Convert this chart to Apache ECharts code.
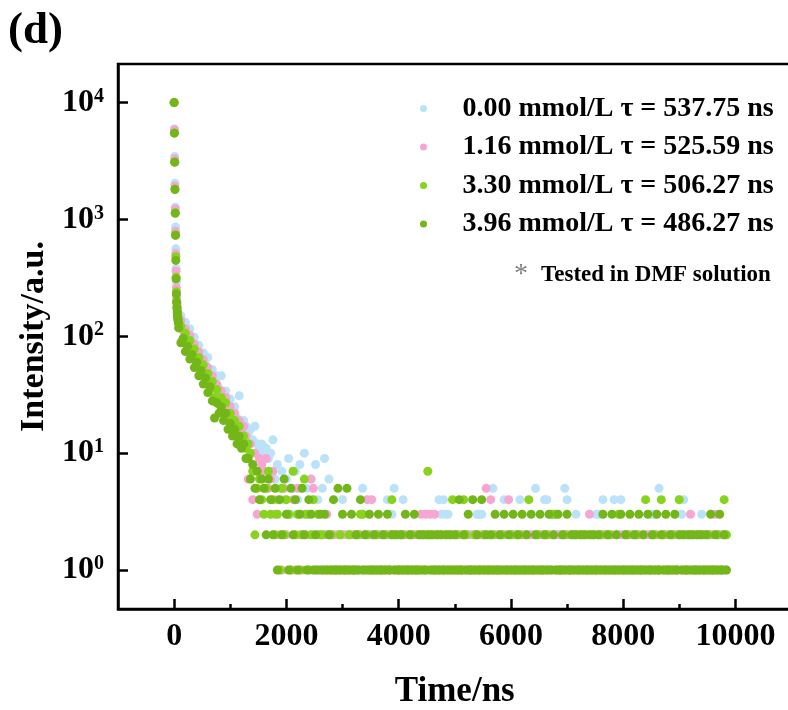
<!DOCTYPE html>
<html><head><meta charset="utf-8">
<script src="https://cdn.jsdelivr.net/npm/echarts@6/dist/echarts.min.js"></script>
<style>html,body{margin:0;padding:0;background:#fff}#c{width:788px;height:710px}</style>
</head><body><div id="c"></div>
<script>
const FONT = '"Liberation Serif","Times New Roman",serif';

const seriesNames = [
  '0.00 mmol/L \u03c4 = 537.75 ns',
  '1.16 mmol/L \u03c4 = 525.59 ns',
  '3.30 mmol/L \u03c4 = 506.27 ns',
  '3.96 mmol/L \u03c4 = 486.27 ns'
];
const seriesColors = ['#BAE2F9', '#F7A6D3', '#88D31C', '#73B619'];

const xMajorTicks = [0, 2000, 4000, 6000, 8000, 10000];
const xMinorTicks = [1000, 3000, 5000, 7000, 9000];
const yTickValues = [1, 10, 100, 1000, 10000];

// fine channels at the excitation peak (ns)
const peakTimesNs = [0, 5, 10, 15, 20, 25, 30, 35, 40, 45, 50, 55, 60, 65, 70, 75];
// body channels: start 80 ns, one every 40 ns
const bodyStartNs = 80;
const bodyStepNs = 40;

const peak000 = [10000, 5950, 3450, 2040, 1270, 860, 560, 380, 290, 225, 195, 178, 166, 158, 150, 144];
const peak116 = [10000, 5850, 3300, 1930, 1230, 790, 510, 360, 260, 215, 188, 172, 160, 152, 146, 140];
const peak330 = [10000, 5500, 3100, 1820, 1140, 740, 480, 320, 240, 200, 178, 163, 152, 146, 140, 134];
const peak396 = [10000, 5470, 3090, 1800, 1130, 730, 446, 310, 230, 196, 175, 160, 150, 142, 136, 130];

const body000 = [
  146,150,126,132,110,116,94,98,80,84,68,72,58,66,50,52,42,46,36,46,31,34,27,29,24,25,20,31,18,19,17,
  15,16,13,17,12,11,12,10,11,9,10,13,6,8,5,7,4,6,9,3,5,7,4,8,2,10,5,3,6,2,8,4,1,
  5,9,2,6,2,1,2,1,2,4,
  2,1,2,1,2,1,2,1,5,1,
  2,1,2,1,2,1,2,1,2,4,
  2,3,5,1,2,1,4,1,2,1,
  2,1,2,1,2,1,2,1,2,1,
  2,1,4,3,4,3,3,1,2,1,
  2,1,2,1,2,1,2,1,2,3,
  3,3,2,1,2,1,5,1,2,1,
  2,4,2,1,2,1,2,1,4,1,
  2,1,2,1,2,5,2,1,2,4,
  4,1,2,1,2,1,2,1,5,4,
  2,1,2,3,2,1,2,1,2,1,
  2,1,3,3,2,4,2,1,2,1,
  4,1,2,4,2,1,2,1,2,1,
  2,1,2,1,2,1,2,3,3,1,
  5,1,2,1,2,1,2,1,2,4,
  3,4,2,1,2,1,2,1,2,3,
  2,1,2,1,2,1,2,1,2,1,2
];
const body116 = [
  138,136,112,116,96,102,82,86,70,74,60,63,52,54,44,46,37,39,32,34,28,30,24,25,21,22,18,19,16,17,14,
  6,12,4,10,3,9,8,7,9,5,6,7,3,4,2,1,5,2,3,1,4,1,5,2,1,3,2,1,6,5,1,2,1,
  1,2,3,2,1,2,1,2,1,2,
  1,2,1,2,1,2,1,2,1,2,
  4,2,4,2,1,2,1,2,1,2,
  1,2,1,2,1,2,1,2,1,2,
  1,2,1,2,3,2,3,2,3,2,
  3,2,1,2,1,2,1,2,1,2,
  1,2,1,2,1,2,1,2,1,2,
  1,2,1,5,1,4,1,2,1,2,
  1,2,1,4,1,2,1,2,1,2,
  1,2,1,2,1,2,1,2,1,2,
  1,2,1,2,1,2,1,2,1,2,
  1,2,1,2,1,2,1,2,1,3,
  1,2,1,2,1,2,1,2,1,2,
  1,2,1,2,1,2,1,2,1,2,
  1,2,1,2,1,2,1,2,1,2,
  1,2,1,2,1,2,1,2,1,2,
  1,2,1,2,3,2,1,2,1,2,
  1,2,1,2,1,3,1,2,1,2,1
];
const body330 = [
  130,122,94,106,82,92,68,78,58,66,49,57,42,48,35,41,30,35,26,30,22,27,19,22,17,19,14,17,12,14,11,
  12,10,7,2,5,6,4,3,5,7,3,4,2,3,1,5,2,4,3,1,7,2,3,1,2,6,3,1,2,4,1,3,2,
  2,1,1,1,2,1,1,1,2,1,
  1,1,2,1,1,1,2,3,3,1,
  2,1,1,1,2,1,1,1,2,1,
  1,4,2,1,1,1,2,1,1,1,
  2,1,1,1,2,1,1,7,2,1,
  1,1,2,1,1,1,2,1,4,1,
  2,1,1,4,2,1,1,1,2,1,
  1,1,2,1,1,1,2,1,1,1,
  2,1,1,1,2,1,1,1,2,1,
  1,1,4,1,1,1,2,1,1,1,
  2,1,3,3,3,1,1,1,2,1,
  1,1,2,1,1,1,2,1,1,1,
  2,1,1,1,2,1,1,1,2,1,
  1,1,3,1,1,1,2,1,1,1,
  2,1,1,1,4,1,1,1,2,1,
  1,4,2,1,1,1,2,1,1,4,
  2,1,1,1,2,1,1,1,2,1,
  1,1,2,1,1,1,2,1,1,4,2
];
const body396 = [
  118,88,96,74,82,64,70,54,60,46,51,39,44,33,37,28,20,27,22,25,19,22,16,18,14,16,12,14,11,12,9,
  9,6,8,5,7,4,6,5,2,6,4,2,5,1,4,2,6,3,1,5,2,4,1,3,5,2,1,4,3,1,2,1,3,
  1,3,1,2,1,4,1,5,1,3,
  1,5,1,3,1,2,1,4,1,2,
  1,3,1,2,1,3,1,2,1,3,
  1,2,1,2,1,2,1,3,1,2,
  1,3,1,2,1,2,1,2,1,2,
  1,2,1,2,1,2,1,2,1,2,
  1,4,1,2,1,3,1,4,1,2,
  1,4,1,2,1,2,1,3,1,2,
  1,3,1,2,1,3,1,2,1,3,
  1,2,1,3,1,2,1,3,1,2,
  1,3,1,2,1,3,1,2,1,3,
  1,2,1,2,1,2,1,2,1,2,
  1,2,1,2,1,3,1,2,1,3,
  1,2,1,3,1,2,1,3,1,2,
  1,3,1,2,1,3,1,2,1,3,
  1,2,1,3,1,2,1,3,1,2,
  1,2,1,2,1,2,1,2,1,2,
  1,2,1,3,1,2,1,3,1,2,1
];

const peaks = [peak000, peak116, peak330, peak396];
const bodies = [body000, body116, body330, body396];

function buildData(peak, body) {
  const out = peak.map((v, k) => [peakTimesNs[k], v]);
  body.forEach((v, i) => out.push([bodyStartNs + i * bodyStepNs, v]));
  return out;
}

const chart = echarts.init(document.getElementById('c'), null, { renderer: 'canvas' });

const series = seriesNames.map((name, s) => ({
  name: name,
  type: 'scatter',
  xAxisIndex: 0,
  yAxisIndex: 0,
  symbol: 'circle',
  symbolSize: 9,
  itemStyle: { color: seriesColors[s], opacity: 1 },
  emphasis: { disabled: true },
  silent: true,
  data: buildData(peaks[s], bodies[s])
}));

const labelFont = { fontFamily: FONT, fontWeight: 'bold', color: '#000' };

chart.setOption({
  animation: false,
  backgroundColor: '#fff',
  grid: {
    left: 118, top: 64, right: -3.5, bottom: 101,
    show: true, borderColor: '#000', borderWidth: 2.5,
    containLabel: false, outerBoundsMode: 'none'
  },
  legend: {
    data: seriesNames,
    orient: 'vertical',
    left: 415, top: 88.5,
    itemWidth: 68, itemHeight: 7, itemGap: 8.5,
    icon: 'circle',
    selectedMode: false,
    textStyle: Object.assign({ fontSize: 28, lineHeight: 30 }, labelFont)
  },
  xAxis: [{
    type: 'value', min: -1000, max: 11000,
    name: 'Time/ns', nameLocation: 'middle', nameGap: 65,
    nameTextStyle: Object.assign({ fontSize: 35 }, labelFont),
    axisLine: { show: true, onZero: false, lineStyle: { color: '#000', width: 2.5 } },
    axisTick: { show: true, inside: true, length: 10, customValues: xMajorTicks, lineStyle: { color: '#000', width: 2.5 } },
    axisLabel: Object.assign({ fontSize: 32, margin: 12, customValues: xMajorTicks,
      formatter: function (v) { return String(v); } }, labelFont),
    splitLine: { show: false }
  }, {
    type: 'value', min: -1000, max: 11000, position: 'bottom',
    axisLine: { show: false },
    axisTick: { show: true, inside: true, length: 5, customValues: xMinorTicks, lineStyle: { color: '#000', width: 2.5 } },
    axisLabel: { show: false },
    splitLine: { show: false }
  }],
  yAxis: {
    type: 'log', logBase: 10, min: 0.464, max: 21380,
    name: 'Intensity/a.u.', nameLocation: 'middle', nameGap: 60,
    nameTextStyle: Object.assign({ fontSize: 34 }, labelFont),
    axisLine: { show: true, onZero: false, lineStyle: { color: '#000', width: 2.5 } },
    axisTick: { show: true, inside: true, length: 10, customValues: yTickValues, lineStyle: { color: '#000', width: 2.5 } },
    axisLabel: {
      customValues: yTickValues,
      margin: 14,
      formatter: function (v) {
        const e = Math.round(Math.log10(v));
        return '{b|10}{e|' + e + '}';
      },
      rich: {
        b: Object.assign({ fontSize: 32, verticalAlign: 'bottom' }, labelFont),
        e: Object.assign({ fontSize: 20, verticalAlign: 'top' }, labelFont)
      }
    },
    splitLine: { show: false }
  },
  graphic: [
    { type: 'text', left: 8, top: 9, silent: true,
      style: { text: '(d)', font: 'bold 45px ' + FONT, fill: '#000' } },
    { type: 'text', left: 514, top: 261, silent: true,
      style: { text: '*', font: '28px ' + FONT, fill: '#808080' } },
    { type: 'text', left: 541, top: 264, silent: true,
      style: { text: 'Tested in DMF solution', font: 'bold 23px ' + FONT, fill: '#000' } }
  ],
  series: series
});
</script>
</body></html>
